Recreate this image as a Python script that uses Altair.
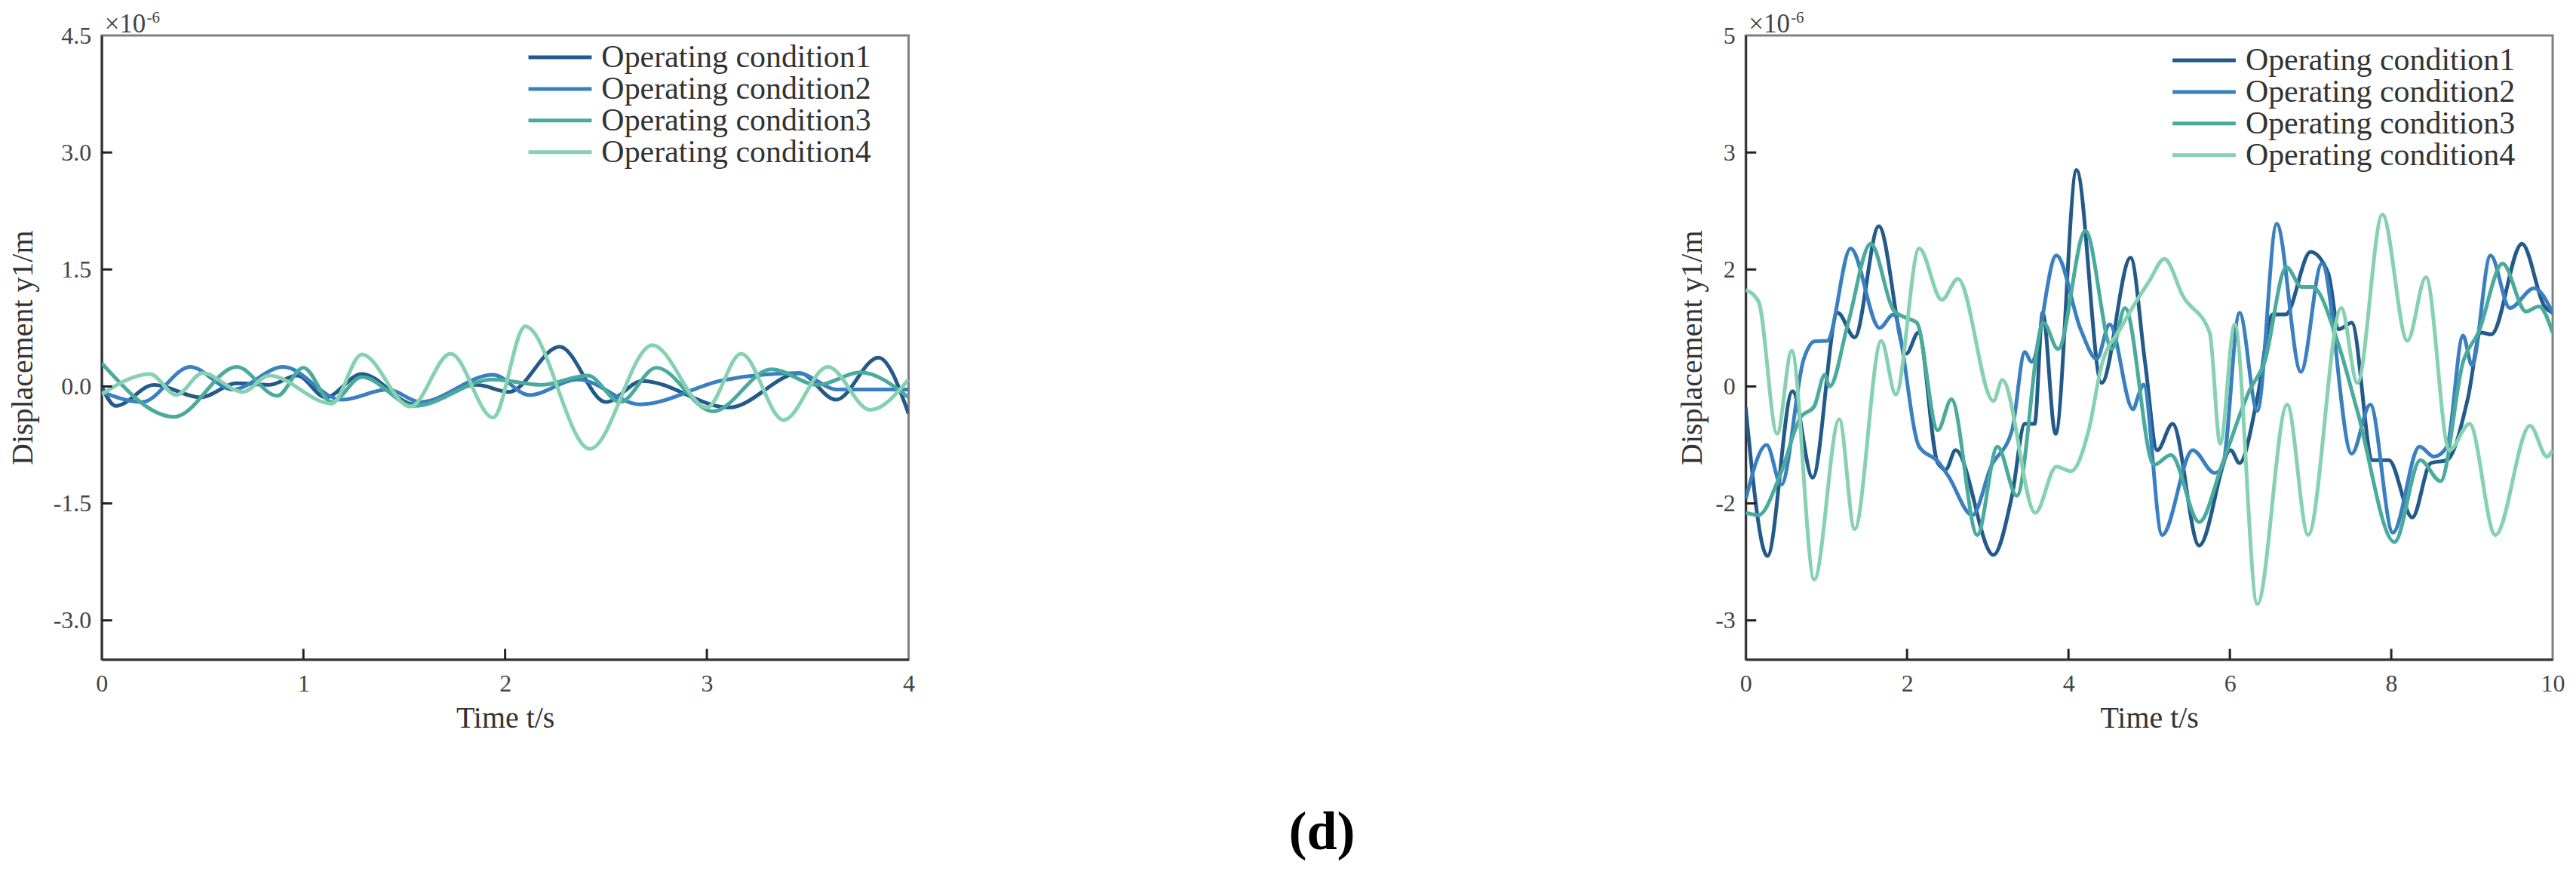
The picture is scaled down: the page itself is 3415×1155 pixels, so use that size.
import altair as alt
import pandas as pd

FONT = "Liberation Serif"
conds = ["Operating condition1", "Operating condition2",
         "Operating condition3", "Operating condition4"]
colors = ["#245a8a", "#3a80c0", "#4aab9d", "#86d1b2"]

# ---------------- left panel (x 1e-6 m) ----------------
L_t1 = [0, 0.07, 0.26, 0.49, 0.67, 0.83, 0.97, 1.11, 1.29, 1.55, 1.86, 2.02, 2.27, 2.5, 2.68, 3.11, 3.46, 3.64, 3.85, 4.0]
L_y1 = [0.0, -0.25, 0.02, -0.14, 0.04, 0.02, 0.14, -0.14, 0.16, -0.23, 0.02, -0.07, 0.51, -0.2, 0.07, -0.27, 0.17, -0.17, 0.37, -0.35]
L_t2 = [0, 0.2, 0.44, 0.65, 0.9, 1.19, 1.42, 1.58, 1.94, 2.12, 2.36, 2.67, 3.08, 3.45, 3.65, 4.0]
L_y2 = [-0.07, -0.2, 0.25, -0.04, 0.25, -0.17, -0.04, -0.2, 0.15, -0.11, 0.09, -0.23, 0.08, 0.17, -0.04, -0.04]
L_t3 = [0, 0.36, 0.67, 0.87, 1.0, 1.14, 1.29, 1.55, 1.94, 2.18, 2.41, 2.57, 2.75, 3.03, 3.32, 3.55, 3.76, 4.0]
L_y3 = [0.3, -0.39, 0.25, -0.12, 0.24, -0.2, 0.12, -0.25, 0.09, 0.02, 0.14, -0.2, 0.24, -0.32, 0.22, 0.02, 0.18, -0.14]
L_t4 = [0, 0.24, 0.37, 0.5, 0.7, 0.83, 1.14, 1.29, 1.53, 1.73, 1.94, 2.1, 2.42, 2.73, 3.0, 3.17, 3.38, 3.6, 3.81, 4.0]
L_y4 = [-0.1, 0.16, -0.11, 0.17, -0.07, 0.14, -0.22, 0.41, -0.26, 0.42, -0.4, 0.77, -0.8, 0.53, -0.27, 0.42, -0.43, 0.25, -0.3, 0.09]

L_xticks = [0, 1, 2, 3, 4]
L_xlabels = ["0", "1", "2", "3", "4"]
L_yticks = [4.5, 3.0, 1.5, 0.0, -1.5, -3.0]
L_ylabels = ["4.5", "3.0", "1.5", "0.0", "-1.5", "-3.0"]
L_ydomain = [-3.5, 4.5]

# ---------------- right panel (x 1e-6 m, values read on the printed tick labels) ----------------
R_t1 = [0, 0.27, 0.58, 0.83, 1.14, 1.35, 1.65, 1.99, 2.14, 2.38, 2.48, 2.6, 3.07, 3.3, 3.46, 3.58, 3.68, 3.84, 4.1, 4.41,
        4.77, 4.95, 5.1, 5.29, 5.62, 6.01, 6.12, 6.34, 6.53, 6.69, 7.0, 7.22, 7.35, 7.51, 7.77, 7.97, 8.26, 8.49, 8.69, 8.95,
        9.11, 9.24, 9.62, 9.9, 10]
R_y1 = [-0.36, -2.45, -0.08, -1.56, 1.26, 0.84, 2.37, 0.56, 0.92, -1.31, -1.42, -1.09, -2.44, -1.87, -0.64, -0.64, 1.26, -0.81, 2.85, 0.06,
        2.1, 0.4, -1.09, -0.64, -2.36, -1.09, -1.31, -0.2, 1.23, 1.23, 2.15, 1.93, 0.98, 1.09, -1.26, -1.26, -2.12, -1.31, -1.26, -0.2,
        0.92, 0.89, 2.22, 1.37, 1.26]
R_t2 = [0, 0.26, 0.44, 0.72, 0.85, 1.01, 1.3, 1.66, 1.83, 2.15, 2.38, 2.51, 2.81, 3.04, 3.3, 3.46, 3.54, 3.85, 4.15, 4.35,
        4.51, 4.8, 4.87, 4.93, 5.16, 5.54, 5.81, 5.91, 6.12, 6.34, 6.58, 6.88, 7.14, 7.51, 7.74, 8.02, 8.35, 8.53, 8.69, 8.89,
        9.0, 9.23, 9.47, 9.77, 10]
R_y2 = [-1.93, -1.0, -1.68, 0.47, 0.77, 0.78, 2.18, 1.0, 1.23, -1.03, -1.28, -1.53, -2.1, -1.37, -0.75, 0.59, 0.42, 2.12, 0.98, 0.47,
        1.06, -0.39, -0.14, 0.03, -2.27, -1.09, -1.48, -1.37, 1.26, -0.42, 2.39, 0.25, 2.05, -1.15, -0.31, -2.25, -1.03, -1.2, -1.03, 0.87,
        0.36, 2.12, 1.34, 1.68, 1.26]
R_t3 = [0, 0.16, 0.42, 0.68, 0.85, 0.98, 1.04, 1.27, 1.55, 1.83, 1.99, 2.12, 2.38, 2.55, 2.87, 3.12, 3.36, 3.69, 3.87, 4.21,
        4.54, 4.7, 5.06, 5.27, 5.62, 5.91, 6.24, 6.43, 6.7, 6.89, 7.02, 7.35, 7.58, 8.04, 8.36, 8.61, 8.89, 9.08, 9.38, 9.67,
        9.83, 10]
R_y3 = [-2.08, -2.1, -1.54, -0.53, -0.34, 0.2, 0.0, 1.09, 2.22, 1.31, 1.17, 1.09, -0.75, -0.22, -2.27, -1.03, -1.87, 1.09, 0.64, 2.33,
        0.64, 1.34, -1.34, -1.17, -2.16, -1.31, -0.08, 0.42, 2.02, 1.7, 1.7, 0.7, -0.42, -2.33, -1.26, -1.62, 0.42, 0.92, 2.05, 1.28,
        1.37, 0.92]
R_t4 = [0, 0.16, 0.39, 0.57, 0.85, 1.16, 1.35, 1.68, 1.86, 2.15, 2.43, 2.63, 3.07, 3.18, 3.59, 3.85, 4.03, 4.25, 4.41, 4.64,
        5.0, 5.19, 5.42, 5.75, 5.88, 6.06, 6.34, 6.71, 6.97, 7.38, 7.58, 7.89, 8.2, 8.43, 8.72, 8.97, 9.29, 9.72, 9.93, 10]
R_y4 = [1.65, 1.45, -0.81, 0.61, -2.65, -0.56, -2.22, 0.78, -0.14, 2.18, 1.48, 1.84, -0.25, 0.11, -2.08, -1.37, -1.45, -0.75, 0.36, 0.98,
        1.8, 2.09, 1.54, 0.92, -0.98, 1.06, -2.86, -0.31, -2.27, 1.34, 0.06, 2.47, 0.78, 1.87, -1.09, -0.64, -2.27, -0.67, -1.2, -1.09]

R_xticks = [0, 2, 4, 6, 8, 10]
R_xlabels = ["0", "2", "4", "6", "8", "10"]
R_yticks = [5, 3, 2, 0, -2, -3]          # printed labels, equally spaced on the page
R_ylabels = ["5", "3", "2", "0", "-2", "-3"]
R_ybottom = -10 / 3

X_TITLE = "Time t/s"
Y_TITLE = "Displacement y1/m"

W, H = 1072, 829
TICK = 14


def long_df(ts, ys):
    rows = []
    for c, tt, yy in zip(conds, ts, ys):
        for a, b in zip(tt, yy):
            rows.append({"t": a, "v": b, "cond": c})
    return pd.DataFrame(rows)


def lab_expr(vals, labs):
    parts = [f"abs(datum.value - ({v})) < 1e-6 ? '{l}'" for v, l in zip(vals, labs)]
    return " : ".join(parts) + " : ''"


def panel(df, xdom, xticks, xlabels, yscale, yticks, ylabels, legY, titleX):
    x_axis = alt.Axis(values=xticks, labelExpr=lab_expr(xticks, xlabels),
                      title=X_TITLE, ticks=False, tickSize=0, grid=False,
                      labelFlush=False, labelPadding=17, labelOverlap=False,
                      titleY=78, titleBaseline="middle")
    y_axis = alt.Axis(values=yticks, labelExpr=lab_expr(yticks, ylabels),
                      title=Y_TITLE, ticks=False, tickSize=0, grid=False,
                      labelPadding=14, labelOverlap=False,
                      titleX=titleX, titleBaseline="middle")
    x_enc = alt.X("t:Q", scale=alt.Scale(domain=xdom, nice=False, zero=False), axis=x_axis, title=X_TITLE)
    y_enc = alt.Y("v:Q", scale=yscale, axis=y_axis, title=Y_TITLE)
    lines = alt.Chart(df).mark_line(strokeWidth=5, interpolate="monotone", clip=True).encode(
        x=x_enc, y=y_enc,
        color=alt.Color("cond:N", scale=alt.Scale(domain=conds, range=colors),
                        legend=alt.Legend(title=None, orient="none", legendX=588, legendY=legY,
                                          symbolType="M-4,0H4", symbolSize=441, symbolStrokeWidth=5,
                                          labelFont=FONT, labelFontSize=42, labelColor="#333",
                                          labelOffset=34, labelLimit=0, rowPadding=0, padding=0)),
        order=alt.Order("cond:N"),
    )
    xin = [v for v in xticks if v != xdom[0] and v != xdom[1]]
    yin = yticks[1:]
    xt = alt.Chart(pd.DataFrame({"t": xin})).mark_rule(color="#222", strokeWidth=3).encode(
        x=alt.X("t:Q", title=X_TITLE), y=alt.value(H), y2=alt.value(H - TICK))
    yt = alt.Chart(pd.DataFrame({"v": yin})).mark_rule(color="#222", strokeWidth=3).encode(
        y=alt.Y("v:Q", title=Y_TITLE), x=alt.value(0), x2=alt.value(TICK))
    e1 = alt.Chart(pd.DataFrame({"s": ["×10"]})).mark_text(
        align="left", baseline="alphabetic", font=FONT, fontSize=35, color="#444").encode(
        x=alt.value(4), y=alt.value(-4), text="s:N")
    e2 = alt.Chart(pd.DataFrame({"s": ["-6"]})).mark_text(
        align="left", baseline="alphabetic", font=FONT, fontSize=21, color="#444").encode(
        x=alt.value(60), y=alt.value(-17), text="s:N")
    return alt.layer(lines, xt, yt, e1, e2).properties(width=W, height=H)


left = panel(long_df([L_t1, L_t2, L_t3, L_t4], [L_y1, L_y2, L_y3, L_y4]),
             [0, 4], L_xticks, L_xlabels,
             alt.Scale(domain=L_ydomain, nice=False, zero=False),
             L_yticks, L_ylabels, 8, -104)

# right axis: printed labels are equally spaced although their values are not
r_dom = [R_ybottom] + sorted(R_yticks)
step = H / (len(R_yticks) - 1 + 1 / 3)
r_rng = [H] + [H - step / 3 - i * step for i in range(len(R_yticks))]
right = panel(long_df([R_t1, R_t2, R_t3, R_t4], [R_y1, R_y2, R_y3, R_y4]),
              [0, 10], R_xticks, R_xlabels,
              alt.Scale(domain=r_dom, range=r_rng, nice=False, zero=False),
              R_yticks, R_ylabels, 12, -71)

chart = alt.hconcat(left, right, spacing=1009).resolve_scale(color="independent").resolve_legend(
    color="independent").properties(
    padding={"left": 1, "top": 2, "right": 5, "bottom": 5},
    background="white",
    title=alt.TitleParams("(d)", orient="bottom", anchor="middle", font=FONT, fontSize=72,
                          fontWeight="bold", color="black", offset=96, dx=47),
).configure_view(stroke="#808080", strokeWidth=3).configure_axis(
    domainColor="#333", domainWidth=3, labelFont=FONT, labelFontSize=32, labelColor="#444",
    titleFont=FONT, titleFontSize=40, titleColor="#333", titleFontWeight="normal",
)

chart.save("out.html", embed_options={"renderer": "svg", "actions": False})
